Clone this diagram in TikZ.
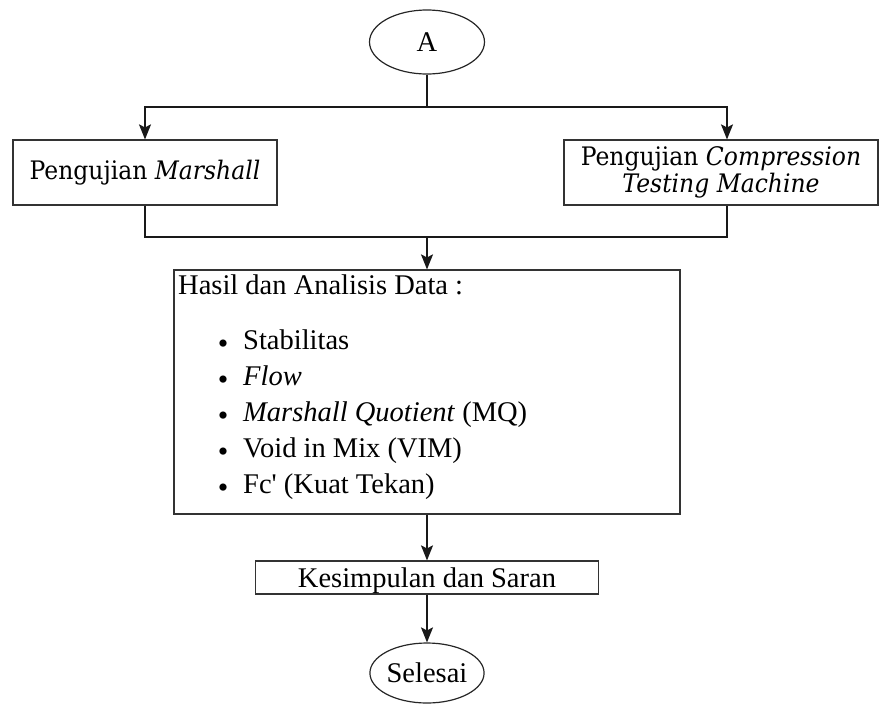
\documentclass[tikz,border=0pt]{standalone}
\usepackage{fontspec}
\setmainfont{Liberation Serif}
\newfontfamily\lsr{Liberation Serif}
\newfontfamily\dvs{DejaVu Serif}[FakeStretch=0.92]
\usetikzlibrary{shapes.geometric,arrows.meta}
\begin{document}
\begin{tikzpicture}[x=1pt,y=-1pt,
 box/.style={draw=black!80, line width=1.2pt, rectangle, inner sep=0pt},
 oval/.style={draw=black!85, line width=1.2pt, ellipse, inner sep=0pt},
 conn/.style={draw=black!90, line width=1.4pt},
 arr/.style={conn, -{Stealth[length=15pt,width=12pt,inset=3pt]}},
 big/.style={font=\fontsize{28.5}{34}\selectfont},
 mid/.style={font=\dvs\fontsize{25.5}{27}\selectfont},
 bul/.style={font=\fontsize{30}{32}\selectfont, anchor=base, inner sep=0pt},
 item/.style={big, anchor=base west, inner sep=0pt}
]
\useasboundingbox (0,0) rectangle (879,705);

\node[oval, big, minimum width=115, minimum height=64] (A) at (427,42) {A};
\node[box, mid, minimum width=264, minimum height=65] (mar) at (145,172.5) {Pengujian \textit{Marshall}};
\node[box, mid, minimum width=314, minimum height=65, align=center] (cmp) at (721,172.5) {Pengujian \textit{Compression}\\\textit{Testing Machine}};

\node[box, minimum width=506, minimum height=244] (hasil) at (427,392) {};
\node[item] (h0) at (178,294) {Hasil dan Analisis Data :};
\node[bul] (b1) at (223,353) {•};
\node[item] (t1) at (243,349) {Stabilitas};
\node[bul] (b2) at (223,389) {•};
\node[item] (t2) at (243,385) {\textit{Flow}};
\node[bul] (b3) at (223,425) {•};
\node[item] (t3) at (243,421) {\textit{Marshall Quotient} (MQ)};
\node[bul] (b4) at (223,461) {•};
\node[item] (t4) at (243,457) {Void in Mix (VIM)};
\node[bul] (b5) at (223,497) {•};
\node[item] (t5) at (243,493) {{\lsr Fc'} (Kuat Tekan)};

\node[box, minimum width=343, minimum height=33] (kes) at (427,577.5) {};
\node[big, anchor=base, inner sep=0pt] (kest) at (427,587) {Kesimpulan dan Saran};
\node[oval, big, minimum width=112, minimum height=60] (sel) at (427,673) {Selesai};

\coordinate (j1) at (427,107);
\coordinate (j2) at (427,237);
\draw[conn] (A.south) -- (j1);
\draw[arr] (j1) -| (mar.north);
\draw[arr] (j1) -| ([xshift=6pt]cmp.north);
\draw[conn] (mar.south) |- (j2) -| ([xshift=6pt]cmp.south);
\draw[arr] (j2) -- (hasil.north);
\draw[arr] (hasil.south) -- (kes.north);
\draw[arr] (kes.south) -- (sel.north);
\end{tikzpicture}
\end{document}
